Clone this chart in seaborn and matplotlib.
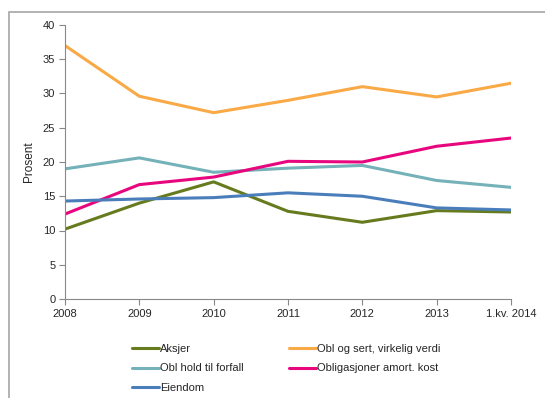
import pandas as pd
import matplotlib.pyplot as plt
import seaborn as sns
from matplotlib.patches import Rectangle

periods = ["2008", "2009", "2010", "2011", "2012", "2013", "1.kv. 2014"]

aksjer = [10.2, 14.0, 17.1, 12.8, 11.2, 12.9, 12.7]
obl_sert = [37.0, 29.6, 27.2, 29.0, 31.0, 29.5, 31.5]
obl_hold = [19.0, 20.6, 18.5, 19.1, 19.5, 17.3, 16.3]
obl_amort = [12.4, 16.7, 17.8, 20.1, 20.0, 22.3, 23.5]
eiendom = [14.3, 14.6, 14.8, 15.5, 15.0, 13.3, 13.0]

series = {
    "Aksjer": aksjer,
    "Obl og sert, virkelig verdi": obl_sert,
    "Obl hold til forfall": obl_hold,
    "Obligasjoner amort. kost": obl_amort,
    "Eiendom": eiendom,
}
colors = {
    "Aksjer": "#667a1e",
    "Obl og sert, virkelig verdi": "#f9a945",
    "Obl hold til forfall": "#74b1b8",
    "Obligasjoner amort. kost": "#e8067f",
    "Eiendom": "#4a7ebb",
}

rows = []
for name, vals in series.items():
    for i, v in enumerate(vals):
        rows.append({"pos": i, "Serie": name, "Prosent": v})
df = pd.DataFrame(rows)

sns.set_style("ticks")
plt.rcParams['font.family'] = ['Liberation Sans', 'DejaVu Sans']

fig = plt.figure(figsize=(5.45, 3.98), dpi=100)
ax = fig.add_axes([65 / 545, 1 - 299 / 398, (511 - 65) / 545, (299 - 25) / 398])

# frame around the chart area (cropped at right and bottom)
fig.patches.append(Rectangle((9 / 545, -0.1), 1.2, 1 - 12 / 398 + 0.1,
                             transform=fig.transFigure, fill=False,
                             edgecolor="#a6a6a6", linewidth=1.2))

sns.lineplot(data=df, x="pos", y="Prosent", hue="Serie", palette=colors,
             hue_order=list(series.keys()), linewidth=2.2, ax=ax, legend=False)

ax.set_xlim(0, len(periods) - 1)
ax.set_ylim(0, 40)
ax.set_xticks(range(len(periods)))
ax.set_xticklabels(periods)
ax.set_yticks(range(0, 41, 5))
ax.set_xlabel("")
ax.set_ylabel("Prosent", fontsize=8.5, labelpad=6)
ax.tick_params(labelsize=8, length=4, color="#888888", width=0.8, pad=3)
for s in ["top", "right"]:
    ax.spines[s].set_visible(False)
for s in ["left", "bottom"]:
    ax.spines[s].set_color("#888888")
    ax.spines[s].set_linewidth(0.8)

order = ["Aksjer", "Obl hold til forfall", "Eiendom",
         "Obl og sert, virkelig verdi", "Obligasjoner amort. kost"]
handles = [plt.Line2D([], [], color=colors[n], linewidth=2.2) for n in order]
fig.legend(handles, order, ncol=2, loc="upper left",
           bbox_to_anchor=(122 / 545, 1 - 334 / 398), frameon=False,
           fontsize=8, handlelength=2.4, handletextpad=0.1,
           columnspacing=4.1, labelspacing=0.85)

fig.savefig("out.png", dpi=100)
